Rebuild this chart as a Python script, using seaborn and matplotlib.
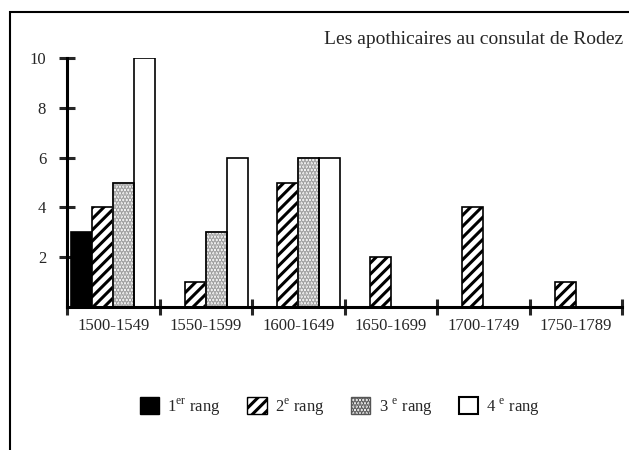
import matplotlib
matplotlib.use("Agg")
import matplotlib.pyplot as plt
import seaborn as sns
import pandas as pd
from matplotlib.patches import Patch, Rectangle
from matplotlib.ticker import FixedLocator

periods = ["1500-1549", "1550-1599", "1600-1649", "1650-1699", "1700-1749", "1750-1789"]
rang1 = [3, 0, 0, 0, 0, 0]
rang2 = [4, 1, 5, 2, 4, 1]
rang3 = [5, 3, 6, 0, 0, 0]
rang4 = [10, 6, 6, 0, 0, 0]
series_names = ["1$^{\\mathrm{er}}$ rang", "2$^{\\mathrm{e}}$ rang", "3 $^{\\mathrm{e}}$ rang", "4 $^{\\mathrm{e}}$ rang"]
title = "Les apothicaires au consulat de Rodez"
yticks = [2, 4, 6, 8, 10]

sns.set_style("white")
plt.rcParams["font.family"] = ["Liberation Serif", "DejaVu Serif"]
plt.rcParams["mathtext.fontset"] = "custom"
plt.rcParams["mathtext.rm"] = "Liberation Serif"
plt.rcParams["hatch.linewidth"] = 2.2

rows = []
for name, vals in zip(series_names, [rang1, rang2, rang3, rang4]):
    for p, v in zip(periods, vals):
        rows.append({"period": p, "rang": name, "n": v})
df = pd.DataFrame(rows)

fig = plt.figure(figsize=(6.29, 4.5), dpi=100)
ax = fig.add_axes([67 / 629, 1 - 307 / 450, (622 - 67) / 629, (307 - 58) / 450])

faces = ["black", "white", "white", "white"]
sns.barplot(data=df, x="period", y="n", hue="rang", order=periods, hue_order=series_names,
            palette=faces, width=0.91, gap=0, edgecolor="black", linewidth=1.2,
            saturation=1, legend=False, ax=ax)

hatches = [None, "///", ".....", None]
hatch_edges = ["black", "black", "#9a9a9a", "black"]
for i, cont in enumerate(ax.containers):
    for bar in cont:
        if hatches[i]:
            bar.set_hatch(hatches[i])
            bar.set_edgecolor(hatch_edges[i])
            if hatch_edges[i] != "black":
                bb = bar.get_bbox()
                ax.add_patch(Rectangle((bb.x0, bb.y0), bb.width, bb.height, fill=False,
                                       edgecolor="black", linewidth=1.2, zorder=bar.get_zorder() + 0.1))

ax.set_ylim(0, 10)
ax.set_xlim(-0.5, len(periods) - 0.5)
ax.set_xlabel("")
ax.set_ylabel("")
ax.set_yticks(yticks)
ax.set_yticklabels([str(t) for t in yticks], fontsize=12)
ax.tick_params(axis="y", direction="inout", length=12, width=2.2, pad=9, left=True)
ax.tick_params(axis="x", which="major", length=0, pad=8, labelsize=12)
ax.xaxis.set_minor_locator(FixedLocator([i - 0.5 for i in range(len(periods) + 1)]))
ax.tick_params(axis="x", which="minor", direction="inout", length=11, width=2.2, bottom=True)
for s in ["top", "right"]:
    ax.spines[s].set_visible(False)
for s in ["left", "bottom"]:
    ax.spines[s].set_linewidth(2.2)
    ax.spines[s].set_color("black")

fig.text(623 / 629, 1 - 40 / 450, title, ha="right", va="center", fontsize=14)

handles = [
    Patch(facecolor="black", edgecolor="black"),
    Patch(facecolor="white", edgecolor="black", hatch="///"),
    Patch(facecolor="white", edgecolor="#555555", hatch="....."),
    Patch(facecolor="white", edgecolor="black", linewidth=1.5),
]
fig.legend(handles, series_names, loc="center", bbox_to_anchor=(340 / 629, 1 - 407 / 450),
           ncol=4, frameon=False, fontsize=12, handlelength=1.15, handleheight=1.15,
           handletextpad=0.5, columnspacing=1.6)

border = Rectangle((10 / 629, -0.1), 1.2, 1 - 12 / 450 + 0.1, transform=fig.transFigure,
                   fill=False, edgecolor="black", linewidth=1.5, clip_on=False)
fig.patches.append(border)

fig.savefig("out.png", dpi=100)
